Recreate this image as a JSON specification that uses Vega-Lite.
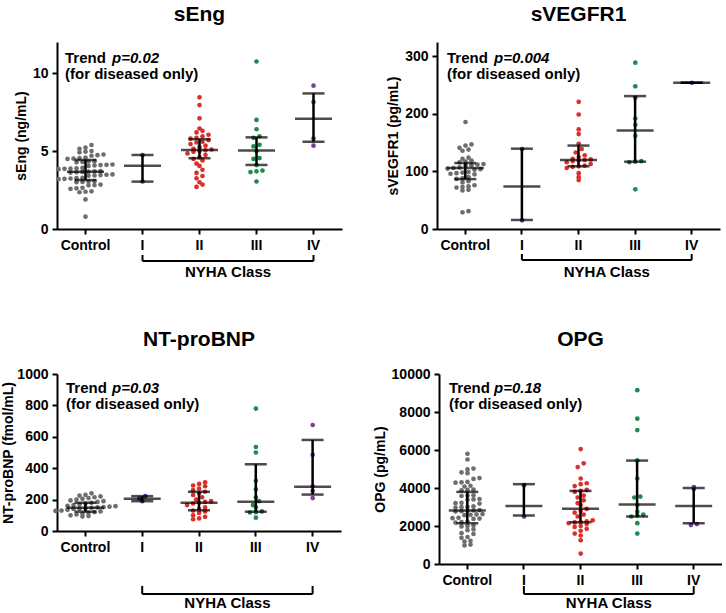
{
"$schema":"https://vega.github.io/schema/vega-lite/v6.json",
"padding":{"left":1,"top":4,"right":0,"bottom":0},
"config":{
 "view":{"stroke":null},
 "axis":{"grid":false,"domainColor":"black","domainWidth":2,"tickColor":"black","tickWidth":2,"tickSize":5,"labelFont":"Liberation Sans","labelFontWeight":"bold","labelFontSize":14,"labelColor":"black","labelPadding":4,"titleFont":"Liberation Sans","titleFontWeight":"bold","titleFontSize":14,"titleColor":"black"},
 "axisX":{"labelAngle":0},
 "axisY":{"labelOverlap":false,"format":"d","tickCount":12},
 "title":{"font":"Liberation Sans","fontWeight":"bold","fontSize":21,"color":"black","anchor":"middle","frame":"group","baseline":"alphabetic","offset":17},
 "text":{"font":"Liberation Sans","fontWeight":"bold","fontSize":15,"color":"black"}
},
"datasets":{
 "d1":[
  {"g":"Control","v":5.39},{"g":"Control","v":5.22},{"g":"Control","v":5.15},{"g":"Control","v":5.0},{"g":"Control","v":4.96},{"g":"Control","v":4.92},{"g":"Control","v":4.78},{"g":"Control","v":4.74},{"g":"Control","v":4.70},{"g":"Control","v":4.58},{"g":"Control","v":4.55},{"g":"Control","v":4.52},{"g":"Control","v":4.50},{"g":"Control","v":4.35},{"g":"Control","v":4.33},{"g":"Control","v":4.30},{"g":"Control","v":4.28},{"g":"Control","v":4.14},{"g":"Control","v":4.12},{"g":"Control","v":4.10},{"g":"Control","v":4.08},{"g":"Control","v":4.05},{"g":"Control","v":3.92},{"g":"Control","v":3.90},{"g":"Control","v":3.88},{"g":"Control","v":3.86},{"g":"Control","v":3.84},{"g":"Control","v":3.72},{"g":"Control","v":3.70},{"g":"Control","v":3.68},{"g":"Control","v":3.66},{"g":"Control","v":3.64},{"g":"Control","v":3.62},{"g":"Control","v":3.50},{"g":"Control","v":3.48},{"g":"Control","v":3.46},{"g":"Control","v":3.44},{"g":"Control","v":3.42},{"g":"Control","v":3.28},{"g":"Control","v":3.26},{"g":"Control","v":3.24},{"g":"Control","v":3.22},{"g":"Control","v":3.20},{"g":"Control","v":3.06},{"g":"Control","v":3.04},{"g":"Control","v":3.02},{"g":"Control","v":3.00},{"g":"Control","v":2.85},{"g":"Control","v":2.82},{"g":"Control","v":2.80},{"g":"Control","v":2.64},{"g":"Control","v":2.61},{"g":"Control","v":2.58},{"g":"Control","v":2.42},{"g":"Control","v":2.39},{"g":"Control","v":2.36},{"g":"Control","v":1.90},{"g":"Control","v":0.79},
  {"g":"I","v":3.05},{"g":"I","v":4.75},
  {"g":"II","v":8.45},{"g":"II","v":7.95},{"g":"II","v":7.1},{"g":"II","v":6.45},{"g":"II","v":6.3},{"g":"II","v":6.2},{"g":"II","v":6.05},{"g":"II","v":5.95},{"g":"II","v":5.85},{"g":"II","v":5.8},{"g":"II","v":5.7},{"g":"II","v":5.6},{"g":"II","v":5.55},{"g":"II","v":5.45},{"g":"II","v":5.35},{"g":"II","v":5.25},{"g":"II","v":5.15},{"g":"II","v":5.1},{"g":"II","v":5.05},{"g":"II","v":5.0},{"g":"II","v":4.95},{"g":"II","v":4.85},{"g":"II","v":4.75},{"g":"II","v":4.6},{"g":"II","v":4.5},{"g":"II","v":4.4},{"g":"II","v":4.2},{"g":"II","v":4.05},{"g":"II","v":3.8},{"g":"II","v":3.6},{"g":"II","v":3.4},{"g":"II","v":3.25},{"g":"II","v":3.0},{"g":"II","v":2.85},{"g":"II","v":2.7},
  {"g":"III","v":10.75},{"g":"III","v":7.0},{"g":"III","v":6.4},{"g":"III","v":5.95},{"g":"III","v":5.85},{"g":"III","v":5.4},{"g":"III","v":5.3},{"g":"III","v":5.0},{"g":"III","v":4.55},{"g":"III","v":4.5},{"g":"III","v":4.1},{"g":"III","v":3.75},{"g":"III","v":3.7},{"g":"III","v":3.65},{"g":"III","v":3.05},
  {"g":"IV","v":9.2},{"g":"IV","v":8.15},{"g":"IV","v":5.8},{"g":"IV","v":5.35}
 ],
 "s1":[
  {"g":"Control","med":3.68,"q1":3.14,"q3":4.43},{"g":"I","med":4.06,"q1":3.04,"q3":4.75},{"g":"II","med":5.07,"q1":4.54,"q3":5.76},{"g":"III","med":5.03,"q1":4.11,"q3":5.88},{"g":"IV","med":7.08,"q1":5.6,"q3":8.7}
 ],
 "d2":[
  {"g":"Control","v":186},{"g":"Control","v":147},{"g":"Control","v":145},{"g":"Control","v":141},{"g":"Control","v":138},{"g":"Control","v":136},{"g":"Control","v":124},{"g":"Control","v":122},{"g":"Control","v":119},{"g":"Control","v":117},{"g":"Control","v":116},{"g":"Control","v":113},{"g":"Control","v":112},{"g":"Control","v":111},{"g":"Control","v":110},{"g":"Control","v":107},{"g":"Control","v":106},{"g":"Control","v":105},{"g":"Control","v":104},{"g":"Control","v":103},{"g":"Control","v":99},{"g":"Control","v":98},{"g":"Control","v":97},{"g":"Control","v":96},{"g":"Control","v":95},{"g":"Control","v":90},{"g":"Control","v":88},{"g":"Control","v":87},{"g":"Control","v":83},{"g":"Control","v":81},{"g":"Control","v":76},{"g":"Control","v":74},{"g":"Control","v":73},{"g":"Control","v":72},{"g":"Control","v":68},{"g":"Control","v":67},{"g":"Control","v":31},{"g":"Control","v":29},
  {"g":"I","v":15},{"g":"I","v":139},
  {"g":"II","v":221},{"g":"II","v":199},{"g":"II","v":173},{"g":"II","v":165},{"g":"II","v":148},{"g":"II","v":139},{"g":"II","v":133},{"g":"II","v":128},{"g":"II","v":125},{"g":"II","v":122},{"g":"II","v":121},{"g":"II","v":120},{"g":"II","v":119},{"g":"II","v":118},{"g":"II","v":116},{"g":"II","v":113},{"g":"II","v":110},{"g":"II","v":109},{"g":"II","v":108},{"g":"II","v":106},{"g":"II","v":97},{"g":"II","v":90},{"g":"II","v":85},
  {"g":"III","v":289},{"g":"III","v":248},{"g":"III","v":228},{"g":"III","v":192},{"g":"III","v":181},{"g":"III","v":162},{"g":"III","v":118},{"g":"III","v":117},{"g":"III","v":116},{"g":"III","v":69},
  {"g":"IV","v":254}
 ],
 "s2":[
  {"g":"Control","med":105.9,"q1":86.7,"q3":114.6},{"g":"I","med":73.8,"q1":15.7,"q3":139.6},{"g":"II","med":120,"q1":109,"q3":145},{"g":"III","med":171,"q1":117,"q3":231},{"g":"IV","med":254,"q1":254,"q3":254}
 ],
 "d3":[
  {"g":"Control","v":240},{"g":"Control","v":230},{"g":"Control","v":225},{"g":"Control","v":220},{"g":"Control","v":215},{"g":"Control","v":210},{"g":"Control","v":205},{"g":"Control","v":200},{"g":"Control","v":195},{"g":"Control","v":190},{"g":"Control","v":185},{"g":"Control","v":180},{"g":"Control","v":175},{"g":"Control","v":170},{"g":"Control","v":165},{"g":"Control","v":160},{"g":"Control","v":158},{"g":"Control","v":155},{"g":"Control","v":152},{"g":"Control","v":150},{"g":"Control","v":148},{"g":"Control","v":145},{"g":"Control","v":142},{"g":"Control","v":140},{"g":"Control","v":135},{"g":"Control","v":130},{"g":"Control","v":128},{"g":"Control","v":125},{"g":"Control","v":120},{"g":"Control","v":115},{"g":"Control","v":110},{"g":"Control","v":105},{"g":"Control","v":100},{"g":"Control","v":95},{"g":"Control","v":92},
  {"g":"I","v":190},{"g":"I","v":207},{"g":"I","v":222},
  {"g":"II","v":310},{"g":"II","v":300},{"g":"II","v":290},{"g":"II","v":285},{"g":"II","v":270},{"g":"II","v":260},{"g":"II","v":250},{"g":"II","v":240},{"g":"II","v":230},{"g":"II","v":215},{"g":"II","v":200},{"g":"II","v":190},{"g":"II","v":185},{"g":"II","v":180},{"g":"II","v":175},{"g":"II","v":165},{"g":"II","v":150},{"g":"II","v":140},{"g":"II","v":130},{"g":"II","v":125},{"g":"II","v":115},{"g":"II","v":100},{"g":"II","v":90},{"g":"II","v":80},{"g":"II","v":75},
  {"g":"III","v":780},{"g":"III","v":535},{"g":"III","v":500},{"g":"III","v":320},{"g":"III","v":265},{"g":"III","v":215},{"g":"III","v":190},{"g":"III","v":165},{"g":"III","v":150},{"g":"III","v":125},{"g":"III","v":120},{"g":"III","v":118},{"g":"III","v":85},
  {"g":"IV","v":675},{"g":"IV","v":485},{"g":"IV","v":285},{"g":"IV","v":255},{"g":"IV","v":210}
 ],
 "s3":[
  {"g":"Control","med":148,"q1":123,"q3":180},{"g":"I","med":205,"q1":190,"q3":222},{"g":"II","med":180,"q1":132,"q3":250},{"g":"III","med":187,"q1":123,"q3":425},{"g":"IV","med":282,"q1":232,"q3":580}
 ],
 "d4":[
  {"g":"Control","v":5800},{"g":"Control","v":5500},{"g":"Control","v":5020},{"g":"Control","v":4980},{"g":"Control","v":4820},{"g":"Control","v":4780},{"g":"Control","v":4520},{"g":"Control","v":4480},{"g":"Control","v":4320},{"g":"Control","v":4300},{"g":"Control","v":4280},{"g":"Control","v":4120},{"g":"Control","v":4080},{"g":"Control","v":3920},{"g":"Control","v":3900},{"g":"Control","v":3880},{"g":"Control","v":3620},{"g":"Control","v":3600},{"g":"Control","v":3580},{"g":"Control","v":3420},{"g":"Control","v":3400},{"g":"Control","v":3380},{"g":"Control","v":3220},{"g":"Control","v":3200},{"g":"Control","v":3180},{"g":"Control","v":3030},{"g":"Control","v":3010},{"g":"Control","v":2990},{"g":"Control","v":2970},{"g":"Control","v":2840},{"g":"Control","v":2820},{"g":"Control","v":2800},{"g":"Control","v":2780},{"g":"Control","v":2760},{"g":"Control","v":2630},{"g":"Control","v":2610},{"g":"Control","v":2590},{"g":"Control","v":2570},{"g":"Control","v":2430},{"g":"Control","v":2410},{"g":"Control","v":2390},{"g":"Control","v":2370},{"g":"Control","v":2220},{"g":"Control","v":2200},{"g":"Control","v":2180},{"g":"Control","v":2020},{"g":"Control","v":2000},{"g":"Control","v":1980},{"g":"Control","v":1820},{"g":"Control","v":1780},{"g":"Control","v":1620},{"g":"Control","v":1580},{"g":"Control","v":1420},{"g":"Control","v":1380},{"g":"Control","v":1220},{"g":"Control","v":1180},{"g":"Control","v":1020},{"g":"Control","v":980},
  {"g":"I","v":2500},{"g":"I","v":4150},
  {"g":"II","v":6050},{"g":"II","v":5300},{"g":"II","v":5100},{"g":"II","v":4500},{"g":"II","v":4250},{"g":"II","v":4200},{"g":"II","v":4100},{"g":"II","v":3900},{"g":"II","v":3850},{"g":"II","v":3800},{"g":"II","v":3600},{"g":"II","v":3500},{"g":"II","v":3350},{"g":"II","v":3200},{"g":"II","v":3100},{"g":"II","v":2900},{"g":"II","v":2800},{"g":"II","v":2700},{"g":"II","v":2600},{"g":"II","v":2500},{"g":"II","v":2300},{"g":"II","v":2250},{"g":"II","v":2200},{"g":"II","v":2190},{"g":"II","v":2150},{"g":"II","v":2100},{"g":"II","v":2000},{"g":"II","v":1950},{"g":"II","v":1850},{"g":"II","v":1750},{"g":"II","v":1600},{"g":"II","v":1500},{"g":"II","v":1250},{"g":"II","v":550},
  {"g":"III","v":9150},{"g":"III","v":7650},{"g":"III","v":7050},{"g":"III","v":5450},{"g":"III","v":4500},{"g":"III","v":3550},{"g":"III","v":3500},{"g":"III","v":3100},{"g":"III","v":2750},{"g":"III","v":2600},{"g":"III","v":2550},{"g":"III","v":2500},{"g":"III","v":2150},{"g":"III","v":1600},
  {"g":"IV","v":4050},{"g":"IV","v":3950},{"g":"IV","v":2100},{"g":"IV","v":2050}
 ],
 "s4":[
  {"g":"Control","med":2819,"q1":2145,"q3":3794},{"g":"I","med":3050,"q1":2553,"q3":4202},{"g":"II","med":2908,"q1":2197,"q3":3846},{"g":"III","med":3138,"q1":2500,"q3":5443},{"g":"IV","med":3050,"q1":2145,"q3":4005}
 ]
},
"bounds":"flush",
"spacing":332,
"vconcat":[
 {"bounds":"flush","spacing":95,"hconcat":[
  {"width":285,"height":187,"title":{"text":"sEng"},
   "layer":[
    {"data":{"name":"d1"},
     "transform":[{"bin":{"step":0.32},"field":"v","as":["b0","b1"]},{"window":[{"op":"row_number","as":"i"},{"op":"count","as":"n"}],"groupby":["g","b0"],"sort":[{"field":"v"}],"frame":[null,null]},{"calculate":"datum.i-(datum.n+1)/2","as":"slot"}],
     "mark":{"type":"circle","size":22,"opacity":1},
     "encoding":{
      "x":{"field":"g","type":"nominal","title":null,"scale":{"domain":["Control","I","II","III","IV"],"paddingInner":0,"paddingOuter":0}},
      "xOffset":{"field":"slot","type":"quantitative","scale":{"domain":[-4.75,4.75]}},
      "y":{"field":"v","type":"quantitative","title":"sEng (ng/mL)","scale":{"domain":[0,12],"nice":false},"axis":{"values":[0,5,10],"tickCount":12,"labelOverlap":false}},
      "color":{"field":"g","type":"nominal","legend":null,"scale":{"domain":["Control","I","II","III","IV"],"range":["#6e6e6e","#40409a","#d9302c","#1f8a4e","#7b3f9c"]}}}},
    {"data":{"name":"s1"},"encoding":{"x":{"field":"g","type":"nominal","title":null}},
     "layer":[
      {"mark":{"type":"rule","strokeWidth":2.5,"color":"black"},"encoding":{"y":{"field":"q1","type":"quantitative","title":"sEng (ng/mL)"},"y2":{"field":"q3"}}},
      {"mark":{"type":"tick","size":22,"thickness":2.5,"color":"black"},"encoding":{"y":{"field":"q1","type":"quantitative","title":"sEng (ng/mL)"}}},
      {"mark":{"type":"tick","size":22,"thickness":2.5,"color":"black"},"encoding":{"y":{"field":"q3","type":"quantitative","title":"sEng (ng/mL)"}}},
      {"mark":{"type":"tick","size":37,"thickness":2.5,"color":"black"},"encoding":{"y":{"field":"med","type":"quantitative","title":"sEng (ng/mL)"}}}]},
    {"data":{"values":[{}]},"encoding":{"x":{"datum":"Control","type":"nominal","bandPosition":0},"y":{"datum":12,"type":"quantitative"}},
     "layer":[
      {"mark":{"type":"text","text":"Trend","align":"left","baseline":"alphabetic","dx":8,"dy":21}},
      {"mark":{"type":"text","text":"(for diseased only)","align":"left","baseline":"alphabetic","dx":8,"dy":37}},
      {"mark":{"type":"text","text":"p=0.02","fontStyle":"italic","align":"left","baseline":"alphabetic","dx":55,"dy":21}}]},
    {"data":{"values":[{"g":"I"},{"g":"IV"}]},"mark":{"type":"rule","strokeWidth":2,"color":"black"},"encoding":{"x":{"field":"g","type":"nominal","title":null},"y":{"datum":-1.67,"type":"quantitative"},"y2":{"datum":-2.05}}},
    {"data":{"values":[{}]},"mark":{"type":"rule","strokeWidth":2,"color":"black"},"encoding":{"x":{"datum":"I","type":"nominal"},"x2":{"datum":"IV"},"y":{"datum":-2.05,"type":"quantitative"}}},
    {"data":{"values":[{}]},"mark":{"type":"text","text":"NYHA Class","align":"center","baseline":"alphabetic"},"encoding":{"x":{"datum":"II","type":"nominal","bandPosition":1},"y":{"datum":-3.08,"type":"quantitative"}}}
   ]},
  {"width":283,"height":187,"title":{"text":"sVEGFR1"},
   "layer":[
    {"data":{"name":"d2"},
     "transform":[{"bin":{"step":8.7},"field":"v","as":["b0","b1"]},{"window":[{"op":"row_number","as":"i"},{"op":"count","as":"n"}],"groupby":["g","b0"],"sort":[{"field":"v"}],"frame":[null,null]},{"calculate":"datum.i-(datum.n+1)/2","as":"slot"}],
     "mark":{"type":"circle","size":22,"opacity":1},
     "encoding":{
      "x":{"field":"g","type":"nominal","title":null,"scale":{"domain":["Control","I","II","III","IV"],"paddingInner":0,"paddingOuter":0}},
      "xOffset":{"field":"slot","type":"quantitative","scale":{"domain":[-4.75,4.75]}},
      "y":{"field":"v","type":"quantitative","title":"sVEGFR1 (pg/mL)","scale":{"domain":[0,325],"nice":false},"axis":{"values":[0,100,200,300],"tickCount":12,"labelOverlap":false}},
      "color":{"field":"g","type":"nominal","legend":null,"scale":{"domain":["Control","I","II","III","IV"],"range":["#6e6e6e","#40409a","#d9302c","#1f8a4e","#7b3f9c"]}}}},
    {"data":{"name":"s2"},"encoding":{"x":{"field":"g","type":"nominal","title":null}},
     "layer":[
      {"mark":{"type":"rule","strokeWidth":2.5,"color":"black"},"encoding":{"y":{"field":"q1","type":"quantitative","title":"sVEGFR1 (pg/mL)"},"y2":{"field":"q3"}}},
      {"mark":{"type":"tick","size":22,"thickness":2.5,"color":"black"},"encoding":{"y":{"field":"q1","type":"quantitative","title":"sVEGFR1 (pg/mL)"}}},
      {"mark":{"type":"tick","size":22,"thickness":2.5,"color":"black"},"encoding":{"y":{"field":"q3","type":"quantitative","title":"sVEGFR1 (pg/mL)"}}},
      {"mark":{"type":"tick","size":37,"thickness":2.5,"color":"black"},"encoding":{"y":{"field":"med","type":"quantitative","title":"sVEGFR1 (pg/mL)"}}}]},
    {"data":{"values":[{}]},"encoding":{"x":{"datum":"Control","type":"nominal","bandPosition":0},"y":{"datum":325,"type":"quantitative"}},
     "layer":[
      {"mark":{"type":"text","text":"Trend","align":"left","baseline":"alphabetic","dx":10,"dy":21}},
      {"mark":{"type":"text","text":"(for diseased only)","align":"left","baseline":"alphabetic","dx":10,"dy":37}},
      {"mark":{"type":"text","text":"p=0.004","fontStyle":"italic","align":"left","baseline":"alphabetic","dx":57,"dy":21}}]},
    {"data":{"values":[{"g":"I"},{"g":"IV"}]},"mark":{"type":"rule","strokeWidth":2,"color":"black"},"encoding":{"x":{"field":"g","type":"nominal","title":null},"y":{"datum":-43.4,"type":"quantitative"},"y2":{"datum":-53.9}}},
    {"data":{"values":[{}]},"mark":{"type":"rule","strokeWidth":2,"color":"black"},"encoding":{"x":{"datum":"I","type":"nominal"},"x2":{"datum":"IV"},"y":{"datum":-53.9,"type":"quantitative"}}},
    {"data":{"values":[{}]},"mark":{"type":"text","text":"NYHA Class","align":"center","baseline":"alphabetic"},"encoding":{"x":{"datum":"II","type":"nominal","bandPosition":1},"y":{"datum":-83.4,"type":"quantitative"}}}
   ]}
 ]},
 {"bounds":"flush","spacing":98,"hconcat":[
  {"width":284,"height":157,"title":{"text":"NT-proBNP"},
   "layer":[
    {"data":{"name":"d3"},
     "transform":[{"bin":{"step":32},"field":"v","as":["b0","b1"]},{"window":[{"op":"row_number","as":"i"},{"op":"count","as":"n"}],"groupby":["g","b0"],"sort":[{"field":"v"}],"frame":[null,null]},{"calculate":"datum.i-(datum.n+1)/2","as":"slot"}],
     "mark":{"type":"circle","size":22,"opacity":1},
     "encoding":{
      "x":{"field":"g","type":"nominal","title":null,"scale":{"domain":["Control","I","II","III","IV"],"paddingInner":0,"paddingOuter":0}},
      "xOffset":{"field":"slot","type":"quantitative","scale":{"domain":[-4.75,4.75]}},
      "y":{"field":"v","type":"quantitative","title":"NT-proBNP (fmol/mL)","scale":{"domain":[0,1000],"nice":false},"axis":{"values":[0,200,400,600,800,1000],"tickCount":12,"labelOverlap":false,"titlePadding":1}},
      "color":{"field":"g","type":"nominal","legend":null,"scale":{"domain":["Control","I","II","III","IV"],"range":["#6e6e6e","#40409a","#d9302c","#1f8a4e","#7b3f9c"]}}}},
    {"data":{"name":"s3"},"encoding":{"x":{"field":"g","type":"nominal","title":null}},
     "layer":[
      {"mark":{"type":"rule","strokeWidth":2.5,"color":"black"},"encoding":{"y":{"field":"q1","type":"quantitative","title":"NT-proBNP (fmol/mL)"},"y2":{"field":"q3"}}},
      {"mark":{"type":"tick","size":22,"thickness":2.5,"color":"black"},"encoding":{"y":{"field":"q1","type":"quantitative","title":"NT-proBNP (fmol/mL)"}}},
      {"mark":{"type":"tick","size":22,"thickness":2.5,"color":"black"},"encoding":{"y":{"field":"q3","type":"quantitative","title":"NT-proBNP (fmol/mL)"}}},
      {"mark":{"type":"tick","size":37,"thickness":2.5,"color":"black"},"encoding":{"y":{"field":"med","type":"quantitative","title":"NT-proBNP (fmol/mL)"}}}]},
    {"data":{"values":[{}]},"encoding":{"x":{"datum":"Control","type":"nominal","bandPosition":0},"y":{"datum":1000,"type":"quantitative"}},
     "layer":[
      {"mark":{"type":"text","text":"Trend","align":"left","baseline":"alphabetic","dx":9,"dy":19}},
      {"mark":{"type":"text","text":"(for diseased only)","align":"left","baseline":"alphabetic","dx":9,"dy":35}},
      {"mark":{"type":"text","text":"p=0.03","fontStyle":"italic","align":"left","baseline":"alphabetic","dx":55,"dy":19}}]},
    {"data":{"values":[{"g":"I"},{"g":"IV"}]},"mark":{"type":"rule","strokeWidth":2,"color":"black"},"encoding":{"x":{"field":"g","type":"nominal","title":null},"y":{"datum":-350,"type":"quantitative"},"y2":{"datum":-401}}},
    {"data":{"values":[{}]},"mark":{"type":"rule","strokeWidth":2,"color":"black"},"encoding":{"x":{"datum":"I","type":"nominal"},"x2":{"datum":"IV"},"y":{"datum":-401,"type":"quantitative"}}},
    {"data":{"values":[{}]},"mark":{"type":"text","text":"NYHA Class","align":"center","baseline":"alphabetic"},"encoding":{"x":{"datum":"II","type":"nominal","bandPosition":1},"y":{"datum":-490,"type":"quantitative"}}}
   ]},
  {"width":283,"height":190,"title":{"text":"OPG"},
   "layer":[
    {"data":{"name":"d4"},
     "transform":[{"bin":{"step":266},"field":"v","as":["b0","b1"]},{"window":[{"op":"row_number","as":"i"},{"op":"count","as":"n"}],"groupby":["g","b0"],"sort":[{"field":"v"}],"frame":[null,null]},{"calculate":"datum.i-(datum.n+1)/2","as":"slot"}],
     "mark":{"type":"circle","size":22,"opacity":1},
     "encoding":{
      "x":{"field":"g","type":"nominal","title":null,"scale":{"domain":["Control","I","II","III","IV"],"paddingInner":0,"paddingOuter":0}},
      "xOffset":{"field":"slot","type":"quantitative","scale":{"domain":[-4.75,4.75]}},
      "y":{"field":"v","type":"quantitative","title":"OPG (pg/mL)","scale":{"domain":[0,10000],"nice":false},"axis":{"values":[0,2000,4000,6000,8000,10000],"tickCount":12,"labelOverlap":false}},
      "color":{"field":"g","type":"nominal","legend":null,"scale":{"domain":["Control","I","II","III","IV"],"range":["#6e6e6e","#40409a","#d9302c","#1f8a4e","#7b3f9c"]}}}},
    {"data":{"name":"s4"},"encoding":{"x":{"field":"g","type":"nominal","title":null}},
     "layer":[
      {"mark":{"type":"rule","strokeWidth":2.5,"color":"black"},"encoding":{"y":{"field":"q1","type":"quantitative","title":"OPG (pg/mL)"},"y2":{"field":"q3"}}},
      {"mark":{"type":"tick","size":22,"thickness":2.5,"color":"black"},"encoding":{"y":{"field":"q1","type":"quantitative","title":"OPG (pg/mL)"}}},
      {"mark":{"type":"tick","size":22,"thickness":2.5,"color":"black"},"encoding":{"y":{"field":"q3","type":"quantitative","title":"OPG (pg/mL)"}}},
      {"mark":{"type":"tick","size":37,"thickness":2.5,"color":"black"},"encoding":{"y":{"field":"med","type":"quantitative","title":"OPG (pg/mL)"}}}]},
    {"data":{"values":[{}]},"encoding":{"x":{"datum":"Control","type":"nominal","bandPosition":0},"y":{"datum":10000,"type":"quantitative"}},
     "layer":[
      {"mark":{"type":"text","text":"Trend","align":"left","baseline":"alphabetic","dx":10,"dy":19}},
      {"mark":{"type":"text","text":"(for diseased only)","align":"left","baseline":"alphabetic","dx":10,"dy":35}},
      {"mark":{"type":"text","text":"p=0.18","fontStyle":"italic","align":"left","baseline":"alphabetic","dx":55,"dy":19}}]},
    {"data":{"values":[{"g":"I"},{"g":"IV"}]},"mark":{"type":"rule","strokeWidth":2,"color":"black"},"encoding":{"x":{"field":"g","type":"nominal","title":null},"y":{"datum":-1158,"type":"quantitative"},"y2":{"datum":-1579}}},
    {"data":{"values":[{}]},"mark":{"type":"rule","strokeWidth":2,"color":"black"},"encoding":{"x":{"datum":"I","type":"nominal"},"x2":{"datum":"IV"},"y":{"datum":-1579,"type":"quantitative"}}},
    {"data":{"values":[{}]},"mark":{"type":"text","text":"NYHA Class","align":"center","baseline":"alphabetic"},"encoding":{"x":{"datum":"II","type":"nominal","bandPosition":1},"y":{"datum":-2300,"type":"quantitative"}}}
   ]}
 ]}
]
}
